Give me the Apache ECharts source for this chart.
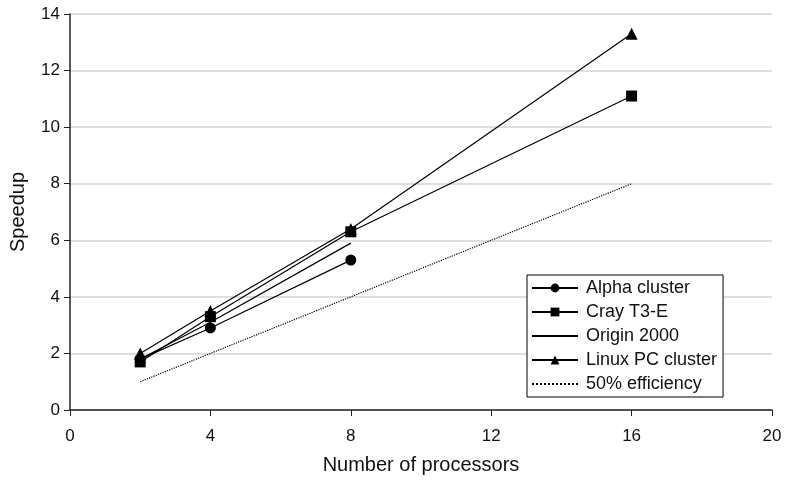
<!DOCTYPE html>
<html><head><meta charset="utf-8">
<script src="https://cdn.jsdelivr.net/npm/echarts@6/dist/echarts.min.js"></script>
<style>html,body{margin:0;padding:0;background:#fff}#c{width:791px;height:480px}</style>
</head><body><div id="c"></div>
<script>
var alphaCluster = [[2,1.8],[4,2.9],[8,5.3]];
var crayT3E = [[2,1.7],[4,3.3],[8,6.3],[16,11.1]];
var origin2000 = [[2,1.8],[4,3.1],[8,5.9]];
var linuxPC = [[2,2.0],[4,3.5],[8,6.4],[16,13.3]];
var eff50 = [[2,1],[4,2],[8,4],[16,8]];
var seriesNames = ['Alpha cluster','Cray T3-E','Origin 2000','Linux PC cluster','50% efficiency'];

var chart = echarts.init(document.getElementById('c'));
var font = 'Liberation Sans, Arial, sans-serif';
function mk(name, data, symbol, size, type) {
  return {
    name: name, type: 'line', data: data, symbol: symbol, symbolSize: size,
    showSymbol: symbol !== 'none',
    lineStyle: {color: '#000', width: 1.2, type: type || 'solid'},
    itemStyle: {color: '#000'},
    animation: false, z: 3
  };
}
var hidden = {color: 'rgba(0,0,0,0)', borderWidth: 0, opacity: 0};
chart.setOption({
  animation: false,
  grid: {left: 70, right: 19, top: 14, bottom: 70},
  xAxis: {
    type: 'value', min: 0, max: 20, interval: 4,
    name: 'Number of processors', nameLocation: 'middle', nameGap: 45,
    nameTextStyle: {fontFamily: font, fontSize: 20, color: '#111'},
    axisLine: {lineStyle: {color: '#222', width: 1.5}},
    axisTick: {show: true, length: 6, lineStyle: {color: '#222'}},
    axisLabel: {fontFamily: font, fontSize: 17, color: '#111', margin: 18},
    splitLine: {show: false}
  },
  yAxis: {
    type: 'value', min: 0, max: 14, interval: 2,
    name: 'Speedup', nameLocation: 'middle', nameGap: 42,
    nameTextStyle: {fontFamily: font, fontSize: 20, color: '#111'},
    axisLine: {show: true, lineStyle: {color: '#222', width: 1.5}},
    axisTick: {show: true, length: 6, lineStyle: {color: '#222'}},
    axisLabel: {fontFamily: font, fontSize: 17, color: '#111', margin: 10},
    splitLine: {show: true, lineStyle: {color: '#d6d2ce', width: 1.5}}
  },
  legend: {
    orient: 'vertical', left: 527, top: 275,
    data: [
      {name: seriesNames[0]},
      {name: seriesNames[1]},
      {name: seriesNames[2], itemStyle: hidden},
      {name: seriesNames[3]},
      {name: seriesNames[4], itemStyle: hidden}
    ],
    backgroundColor: '#fff', borderColor: '#000', borderWidth: 1,
    padding: [4, 6, 4, 4], itemGap: 6, itemWidth: 46, itemHeight: 11,
    textStyle: {fontFamily: font, fontSize: 18, color: '#111', padding: [0,0,0,3]}
  },
  series: [
    mk(seriesNames[0], alphaCluster, 'circle', 11),
    mk(seriesNames[1], crayT3E, 'rect', 11),
    mk(seriesNames[2], origin2000, 'none', 0),
    mk(seriesNames[3], linuxPC, 'triangle', 12),
    mk(seriesNames[4], eff50, 'none', 0, 'dotted')
  ]
});
</script></body></html>
